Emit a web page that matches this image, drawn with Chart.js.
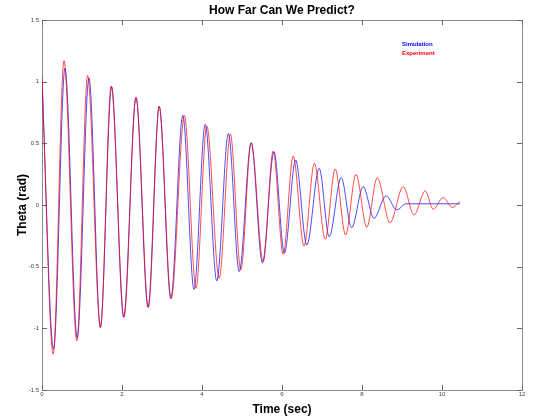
<!DOCTYPE html>
<html>
<head>
<meta charset="utf-8">
<script src="https://cdn.jsdelivr.net/npm/chart.js@4.4.0/dist/chart.umd.min.js"></script>
<style>
html,body{margin:0;padding:0;background:#fff;}
</style>
</head>
<body>
<canvas id="c" width="543" height="417"></canvas>
<script>
// values (extrema of each curve)
var simTime = [0, 0.29, 0.575, 0.88, 1.175, 1.46, 1.74, 2.04, 2.35, 2.65, 2.93, 3.22, 3.52, 3.80, 4.08, 4.37, 4.66, 4.93, 5.23, 5.51, 5.80, 6.06, 6.34, 6.62, 6.93, 7.18, 7.48, 7.74, 8.03, 8.30, 8.60, 8.87, 9.10, 10.45];
var simTheta = [1.00, -1.17, 1.11, -1.08, 1.03, -0.99, 0.96, -0.91, 0.87, -0.83, 0.80, -0.76, 0.727, -0.684, 0.654, -0.616, 0.58, -0.54, 0.505, -0.468, 0.432, -0.39, 0.365, -0.324, 0.297, -0.257, 0.222, -0.184, 0.148, -0.108, 0.075, -0.04, 0.01, 0.01];

var expTime = [0, 0.28, 0.55, 0.87, 1.14, 1.46, 1.73, 2.05, 2.35, 2.66, 2.93, 3.23, 3.56, 3.85, 4.12, 4.43, 4.71, 4.97, 5.23, 5.53, 5.78, 6.03, 6.28, 6.55, 6.81, 7.08, 7.33, 7.59, 7.85, 8.12, 8.38, 8.70, 9.03, 9.30, 9.58, 9.78, 10.03, 10.26, 10.45];
var expTheta = [1.04, -1.21, 1.17, -1.10, 1.05, -0.995, 0.965, -0.91, 0.876, -0.83, 0.80, -0.757, 0.725, -0.676, 0.64, -0.595, 0.573, -0.527, 0.505, -0.46, 0.438, -0.40, 0.397, -0.333, 0.338, -0.278, 0.292, -0.243, 0.249, -0.18, 0.22, -0.143, 0.149, -0.081, 0.114, -0.035, 0.06, -0.02, 0.03];

var xTicks = [0, 2, 4, 6, 8, 10, 12];
var yTicks = [-1.5, -1, -0.5, 0, 0.5, 1, 1.5];
var seriesNames = ["Simulation", "Experiment"];

function pts(t, v){
	var out = [];
	for(var i=0;i<t.length;i++){
		out.push({x: t[i], y: v[i]});
	}
	return out;
}

// matlab style box with ticks pointing inwards
var frame = {
	id: 'frame',
	beforeDatasetsDraw: function(chart){
		var ctx = chart.ctx, a = chart.chartArea;
		var xs = chart.scales.x, ys = chart.scales.y;
		ctx.save();
		ctx.strokeStyle = '#8c8c8c';
		ctx.lineWidth = 1;
		ctx.strokeRect(a.left + 0.5, a.top + 0.5, a.right - a.left, a.bottom - a.top);
		ctx.strokeStyle = '#666';
		ctx.beginPath();
		xTicks.forEach(function(v){
			var px = Math.round(xs.getPixelForValue(v)) + 0.5;
			ctx.moveTo(px, a.bottom); ctx.lineTo(px, a.bottom - 5);
			ctx.moveTo(px, a.top); ctx.lineTo(px, a.top + 5);
		});
		yTicks.forEach(function(v){
			var py = Math.round(ys.getPixelForValue(v)) + 0.5;
			ctx.moveTo(a.left, py); ctx.lineTo(a.left + 5, py);
			ctx.moveTo(a.right, py); ctx.lineTo(a.right - 5, py);
		});
		ctx.stroke();
		ctx.restore();
	},
	afterDraw: function(chart){
		var ctx = chart.ctx;
		ctx.save();
		ctx.font = 'bold 6px "Liberation Sans", Arial, sans-serif';
		ctx.textBaseline = 'middle';
		ctx.fillStyle = '#0000ff';
		ctx.fillText(seriesNames[0], 402, 44);
		ctx.fillStyle = '#ff0000';
		ctx.fillText(seriesNames[1], 402, 53);
		ctx.restore();
	}
};

new Chart(document.getElementById("c"), {
	type: 'line',
	data: {
		datasets: [{
			label: seriesNames[0],
			data: pts(simTime, simTheta),
			borderColor: "rgba(0,0,255,0.7)",
			borderWidth: 1,
			pointRadius: 0,
			cubicInterpolationMode: 'monotone',
			fill: false,
			order: 2
		}, {
			label: seriesNames[1],
			data: pts(expTime, expTheta),
			borderColor: "rgba(255,0,0,0.7)",
			borderWidth: 1,
			pointRadius: 0,
			cubicInterpolationMode: 'monotone',
			fill: false,
			order: 1
		}]
	},
	options: {
		responsive: false,
		animation: false,
		layout: { padding: { left: 0, right: 21, top: 0, bottom: 0 } },
		plugins: {
			legend: { display: false },
			tooltip: { enabled: false },
			title: {
				display: true,
				fullSize: false,
				text: 'How Far Can We Predict?',
				color: '#000',
				font: { family: '"Liberation Sans", Arial, sans-serif', size: 12, weight: 'bold', lineHeight: 1.2 },
				padding: { top: 3, bottom: 2.6 }
			}
		},
		scales: {
			x: {
				type: 'linear',
				min: 0, max: 12,
				afterBuildTicks: function(s){ s.ticks = xTicks.map(function(v){ return {value: v}; }); },
				afterFit: function(s){ s.height = 27; },
				grid: { display: false, drawTicks: false },
				border: { display: false },
				ticks: {
					padding: 1,
					color: '#444',
					font: { family: '"Liberation Sans", Arial, sans-serif', size: 6 },
					maxRotation: 0,
					callback: function(v){ return String(v); }
				},
				title: {
					display: true,
					text: 'Time (sec)',
					color: '#000',
					font: { family: '"Liberation Sans", Arial, sans-serif', size: 12, weight: 'bold', lineHeight: 1.2 },
					padding: { top: 4, bottom: 0 }
				}
			},
			y: {
				type: 'linear',
				min: -1.5, max: 1.5,
				afterBuildTicks: function(s){ s.ticks = yTicks.map(function(v){ return {value: v}; }); },
				afterFit: function(s){ s.width = 42; },
				grid: { display: false, drawTicks: false },
				border: { display: false },
				ticks: {
					padding: 3,
					color: '#444',
					font: { family: '"Liberation Sans", Arial, sans-serif', size: 6 },
					callback: function(v){ return String(v); }
				},
				title: {
					display: true,
					text: 'Theta (rad)',
					color: '#000',
					font: { family: '"Liberation Sans", Arial, sans-serif', size: 12, weight: 'bold', lineHeight: 1.2 },
					padding: { top: 15, bottom: 0 }
				}
			}
		}
	},
	plugins: [frame]
});
</script>
</body>
</html>
